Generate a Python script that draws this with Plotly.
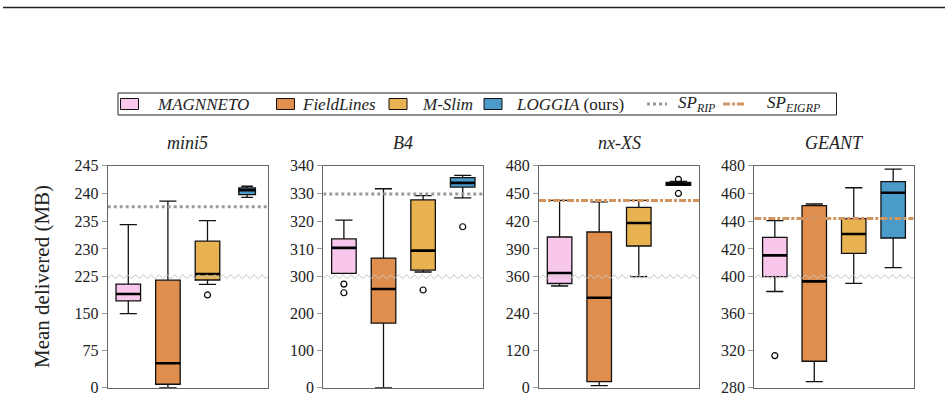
import numpy as np
import plotly.graph_objects as go

# ---------------- data ----------------
panels = ["mini5", "B4", "nx-XS", "GEANT"]
methods = ["MAGNNETO", "FieldLines", "M-Slim", "LOGGIA"]
legend_names = ["<i>MAGNNETO</i>", "<i>FieldLines</i>", "<i>M-Slim</i>", "<i>LOGGIA</i> (ours)"]
ref_names = ["<i>SP</i><sub><i>RIP</i></sub>", "<i>SP</i><sub><i>EIGRP</i></sub>"]
colors = ["#F9C7EB", "#E08E4D", "#E8B250", "#4A9BCA"]

# broken-axis definitions: lower min, break value, upper max
axis_lo = [0, 0, 0, 280]
axis_break = [225, 300, 360, 400]
axis_hi = [245, 340, 480, 480]
tick_labels = [
    [0, 75, 150, 225, 230, 235, 240, 245],
    [0, 100, 200, 300, 310, 320, 330, 340],
    [0, 120, 240, 360, 390, 420, 450, 480],
    [280, 320, 360, 400, 420, 440, 460, 480],
]

# box statistics per panel, per method: [lowerfence, q1, median, q3, upperfence]
mini5_stats = [
    [150, 176, 190, 210, 234.4],
    [0, 7, 49.5, 218, 238.6],
    [209.6, 218.3, 225.5, 231.4, 235.1],
    [239.3, 239.8, 240.6, 241.0, 241.3],
]
b4_stats = [
    [301.2, 301.2, 310.4, 313.6, 320.4],
    [0, 174.5, 266.7, 306.7, 331.7],
    [301.7, 302.4, 309.4, 327.7, 329.2],
    [328.4, 332.3, 333.8, 335.7, 336.5],
]
nxxs_stats = [
    [329.8, 338, 364, 402.9, 442.5],
    [6.5, 19.5, 291.7, 408.3, 440.8],
    [360, 393.2, 418, 434.9, 442.5],
    [458.7, 458.7, 460.0, 462.0, 463.0],
]
geant_stats = [
    [384, 400, 415.4, 428.3, 440.4],
    [286.5, 308.6, 394.9, 451.2, 452.4],
    [392.7, 416.8, 430.8, 441.8, 464.1],
    [406.5, 427.9, 460.5, 468.5, 477.6],
]
all_stats = [mini5_stats, b4_stats, nxxs_stats, geant_stats]

# outliers per panel, per method
mini5_out = [[], [], [188], []]
b4_out = [[280, 256.6], [], [264], [318]]
nxxs_out = [[], [], [], [465.2, 450]]
geant_out = [[314.7], [], [], []]
all_out = [mini5_out, b4_out, nxxs_out, geant_out]

# reference lines
sp_rip = {0: 237.6, 1: 329.8}
sp_eigrp = {2: 442.5, 3: 442.0}

box_widths = [[0.62, 0.62, 0.62, 0.42], [0.62, 0.62, 0.62, 0.62],
              [0.62, 0.62, 0.62, 0.62], [0.62, 0.62, 0.62, 0.62]]

# ---------------- layout helpers ----------------
W, H = 948, 400
FONT = "Liberation Serif, Times New Roman, DejaVu Serif, serif"
TXT = "#222222"
x_px = [(107.7, 267.7), (323.3, 483.3), (539.0, 699.0), (754.3, 913.7)]
y_px = (165.7, 387.7)
XR = [-0.52, 3.52]
RIP_STYLE = dict(color="#9a9a9a", width=3, dash="3px,3px")
EIGRP_STYLE = dict(color="#D3955F", width=3, dash="7px,2px,3px,2px")


def make_tf(lo, b, hi):
    def f(v):
        v = np.asarray(v, dtype=float)
        return np.where(v <= b, (v - lo) / (b - lo) * 0.5, 0.5 + (v - b) / (hi - b) * 0.5)
    return f


def px(x):
    return x / W


def py(y):
    return 1 - y / H


fig = go.Figure()

for p in range(4):
    f = make_tf(axis_lo[p], axis_break[p], axis_hi[p])
    xa = "x" if p == 0 else f"x{p+1}"
    ya = "y" if p == 0 else f"y{p+1}"
    for m in range(4):
        lf, q1, med, q3, uf = all_stats[p][m]
        w = box_widths[p][m]
        fig.add_trace(go.Box(
            x=[m], q1=[float(f(q1))], median=[float(f(med))], q3=[float(f(q3))],
            lowerfence=[float(f(lf))], upperfence=[float(f(uf))],
            width=w, whiskerwidth=0.7, fillcolor=colors[m],
            line=dict(color="#111111", width=1.3), boxpoints=False,
            name=methods[m], showlegend=False, xaxis=xa, yaxis=ya, hoverinfo="skip",
        ))
        fig.add_trace(go.Scatter(
            x=[m - w / 2, m + w / 2], y=[float(f(med))] * 2, mode="lines",
            line=dict(color="#000000", width=2.6), showlegend=False,
            xaxis=xa, yaxis=ya, hoverinfo="skip",
        ))
        outs = all_out[p][m]
        if outs:
            fig.add_trace(go.Scatter(
                x=[m] * len(outs), y=f(outs).tolist(), mode="markers",
                marker=dict(symbol="circle-open", size=6, color="#000000",
                            line=dict(width=1.2)),
                showlegend=False, xaxis=xa, yaxis=ya, hoverinfo="skip",
            ))
    zx = np.arange(XR[0], XR[1] + 0.1, 0.1)
    zy = 0.5 + 0.009 * np.where(np.arange(len(zx)) % 2 == 0, -1, 1)
    fig.add_trace(go.Scatter(
        x=zx, y=zy, mode="lines", line=dict(color="#c4c4c4", width=1),
        showlegend=False, xaxis=xa, yaxis=ya, hoverinfo="skip",
    ))

for refs, style in ((sp_rip, RIP_STYLE), (sp_eigrp, EIGRP_STYLE)):
    for p, v in refs.items():
        f = make_tf(axis_lo[p], axis_break[p], axis_hi[p])
        xa = "x" if p == 0 else f"x{p+1}"
        ya = "y" if p == 0 else f"y{p+1}"
        fig.add_trace(go.Scatter(
            x=XR, y=[float(f(v))] * 2, mode="lines", line=style,
            showlegend=False, xaxis=xa, yaxis=ya, hoverinfo="skip",
        ))

layout = dict(
    width=W, height=H, margin=dict(l=0, r=0, t=0, b=0, pad=0),
    paper_bgcolor="white", plot_bgcolor="white",
    font=dict(family=FONT, size=16, color=TXT),
    showlegend=False,
)
annotations = []
shapes = []
for p in range(4):
    f = make_tf(axis_lo[p], axis_break[p], axis_hi[p])
    sfx = "" if p == 0 else str(p + 1)
    x0, x1 = x_px[p]
    layout["xaxis" + sfx] = dict(
        domain=[px(x0), px(x1)], range=XR, showticklabels=False, showgrid=False,
        zeroline=False, showline=True, mirror=True, linecolor="#666666", linewidth=1.2,
        ticks="", anchor="y" + sfx, automargin=False, fixedrange=True,
    )
    layout["yaxis" + sfx] = dict(
        domain=[py(y_px[1]), py(y_px[0])], range=[0, 1],
        tickvals=f(tick_labels[p]).tolist(), ticktext=[str(t) for t in tick_labels[p]],
        showgrid=False, zeroline=False, showline=True, mirror=True,
        linecolor="#666666", linewidth=1.2, ticks="outside", ticklen=5,
        tickcolor="#999999", tickfont=dict(size=16, family=FONT, color=TXT),
        anchor="x" + sfx, automargin=False, fixedrange=True,
    )
    annotations.append(dict(
        text=f"<i>{panels[p]}</i>", x=px((x0 + x1) / 2), y=py(143),
        xref="paper", yref="paper", xanchor="center", yanchor="middle", showarrow=False,
        font=dict(size=18, family=FONT, color=TXT),
    ))
annotations.append(dict(
    text="Mean delivered (MB)", x=px(42), y=py(277), xref="paper", yref="paper",
    xanchor="center", yanchor="middle",
    textangle=-90, showarrow=False, font=dict(size=21, family=FONT, color=TXT),
))

# ---- legend (drawn manually to match reference layout) ----
LEG_Y = 104
shapes.append(dict(type="rect", xref="paper", yref="paper", x0=px(118), x1=px(836.5),
                   y0=py(115), y1=py(93), line=dict(color="#222222", width=1),
                   fillcolor="white", layer="above"))
sw_x = [120.5, 276.5, 389, 484]
txt_x = [155, 300, 420, 514]
for m in range(4):
    shapes.append(dict(type="rect", xref="paper", yref="paper",
                       x0=px(sw_x[m]), x1=px(sw_x[m] + 18), y0=py(LEG_Y + 5.5), y1=py(LEG_Y - 5.5),
                       line=dict(color="#111111", width=1), fillcolor=colors[m]))
    annotations.append(dict(text=legend_names[m], x=px(txt_x[m]), y=py(LEG_Y), xref="paper",
                            yref="paper", xanchor="left", yanchor="middle", showarrow=False,
                            font=dict(size=17, family=FONT, color=TXT)))
line_x = [(647, 667), (723, 744)]
line_txt_x = [676, 765]
for i, style in enumerate((RIP_STYLE, EIGRP_STYLE)):
    shapes.append(dict(type="line", xref="paper", yref="paper",
                       x0=px(line_x[i][0]), x1=px(line_x[i][1]), y0=py(LEG_Y), y1=py(LEG_Y),
                       line=style))
    annotations.append(dict(text=ref_names[i], x=px(line_txt_x[i]), y=py(LEG_Y), xref="paper",
                            yref="paper", xanchor="left", yanchor="middle", showarrow=False,
                            font=dict(size=17, family=FONT, color=TXT)))

shapes.append(dict(type="line", xref="paper", yref="paper", x0=px(3), x1=px(945),
                   y0=py(7.5), y1=py(7.5), line=dict(color="#222222", width=1.5)))
layout["annotations"] = annotations
layout["shapes"] = shapes
fig.update_layout(**layout)
fig.write_html("out.html")
